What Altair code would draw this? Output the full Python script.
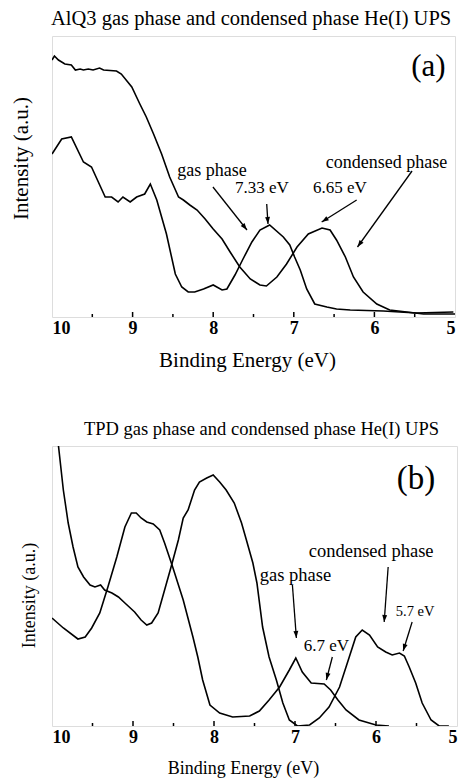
import math
import altair as alt
import pandas as pd

FONT = "Liberation Serif"

# ---------------- Panel (a): AlQ3 ----------------
a_gas_E = [10.0, 9.88, 9.76, 9.61, 9.51, 9.34, 9.26, 9.18, 9.12, 9.03, 8.95, 8.85, 8.78, 8.70,
           8.58, 8.47, 8.39, 8.31, 8.23, 8.12, 8.00, 7.89, 7.83, 7.73, 7.63, 7.52, 7.42, 7.30,
           7.13, 7.05, 6.99, 6.92, 6.84, 6.74, 6.59, 6.47, 6.30, 5.89, 5.48, 5.02]
a_gas_I = [163, 178, 180, 155, 150, 120, 120, 115, 120, 115, 120, 123, 133, 117,
           83, 43, 30, 25, 25, 28, 32, 27, 28, 42, 58, 75, 87, 92,
           80, 72, 60, 47, 28, 13, 10, 8, 7, 6, 4, 5]

a_cond_E = [10.0, 9.97, 9.92, 9.84, 9.76, 9.71, 9.65, 9.61, 9.55, 9.49, 9.41, 9.36, 9.20, 9.14,
            9.01, 8.91, 8.83, 8.74, 8.64, 8.54, 8.43, 8.37, 8.29, 8.20, 8.10, 8.00, 7.89, 7.79,
            7.67, 7.54, 7.42, 7.34, 7.21, 7.09, 6.96, 6.82, 6.65, 6.55, 6.47, 6.36, 6.26, 6.14,
            5.97, 5.81, 5.60, 5.39, 5.0]
a_cond_I = [257, 261, 257, 253, 252, 247, 248, 247, 248, 247, 249, 247, 246, 243,
            230, 213, 200, 183, 163, 140, 120, 117, 112, 107, 98, 88, 78, 65,
            50, 38, 32, 31, 40, 53, 70, 83, 89, 87, 77, 60, 40, 25,
            13, 7, 5, 3, 3]

a_labels = ["gas phase", "7.33 eV", "6.65 eV", "condensed phase", "(a)"]
a_label_E = [8.015, 7.395, 6.427, 5.85, 5.33]
a_label_I = [146, 129, 129, 154, 250]
a_label_fs = [18, 17, 17, 18, 31]

a_arrow_E1 = [8.003, 7.336, 6.220, 5.533]
a_arrow_I1 = [130, 113, 117, 146]
a_arrow_E2 = [7.581, 7.320, 6.654, 6.210]
a_arrow_I2 = [87, 93, 95, 70]

# ---------------- Panel (b): TPD ----------------
b_gas_E = [10.0, 9.86, 9.68, 9.59, 9.51, 9.41, 9.31, 9.20, 9.10, 9.02, 8.96, 8.90, 8.83, 8.75,
           8.67, 8.61, 8.51, 8.38, 8.26, 8.20, 8.14, 8.05, 7.93, 7.77, 7.56, 7.44, 7.32, 7.19,
           7.07, 6.99, 6.91, 6.80, 6.64, 6.56, 6.47, 6.37, 6.21, 6.00, 5.84]
b_gas_I = [108, 98, 87, 89, 98, 113, 139, 169, 199, 213, 213, 208, 204, 202,
           196, 183, 159, 126, 89, 69, 46, 21, 13, 9, 10, 15, 26, 39,
           56, 68, 54, 43, 42, 36, 26, 16, 6, 1, 0]

b_cond_E = [9.92, 9.86, 9.80, 9.74, 9.68, 9.61, 9.53, 9.47, 9.40, 9.35, 9.26, 9.18, 9.10, 8.98,
            8.90, 8.83, 8.77, 8.69, 8.61, 8.53, 8.44, 8.38, 8.32, 8.24, 8.18, 8.09, 8.01, 7.93,
            7.85, 7.75, 7.66, 7.60, 7.52, 7.47, 7.40, 7.32, 7.23, 7.15, 7.07, 6.97, 6.82, 6.70,
            6.58, 6.45, 6.33, 6.25, 6.17, 6.08, 5.98, 5.88, 5.80, 5.71, 5.65, 5.59, 5.51, 5.43,
            5.32, 5.22, 5.10]
b_cond_I = [280, 236, 203, 179, 159, 149, 141, 139, 141, 136, 133, 129, 123, 114,
            106, 101, 103, 113, 136, 159, 186, 208, 216, 236, 244, 248, 251, 244,
            236, 223, 203, 186, 163, 143, 99, 69, 46, 23, 6, 0, 1, 8,
            19, 39, 69, 89, 96, 91, 79, 74, 71, 73, 70, 59, 43, 23,
            6, 0, 0]

b_labels = ["gas phase", "condensed phase", "6.7 eV", "5.7 eV", "(b)"]
b_label_E = [6.995, 6.06, 6.613, 5.517, 5.505]
b_label_I = [151, 175, 80, 114, 247]
b_label_fs = [18.5, 18.5, 17, 14.5, 33]

b_arrow_E1 = [7.032, 6.539, 5.850, 5.554]
b_arrow_I1 = [141, 69, 159, 104]
b_arrow_E2 = [6.983, 6.613, 5.899, 5.665]
b_arrow_I2 = [88, 46, 104, 75]

tick_E = [9.5, 9.0, 8.5, 8.0, 7.5, 7.0, 6.5, 6.0, 5.5]
tick_len = [3, 5, 3, 5, 3, 5, 3, 5, 3]
tick_labels = [10, 9, 8, 7, 6, 5]

ARROW = "M0,0 L-0.7,2 L0.7,2 Z"


def panel(gas_E, gas_I, cond_E, cond_I, labels, lab_E, lab_I, lab_fs,
          ae1, ai1, ae2, ai2, width, height, title, title_fs, title_dx, title_off,
          ytitle_fs, ytitle_pad, ytitle_y, xtitle_fs, xtitle_pad, xtitle_x):
    curves = pd.concat([
        pd.DataFrame({"E": gas_E, "I": gas_I, "s": "gas"}),
        pd.DataFrame({"E": cond_E, "I": cond_I, "s": "cond"}),
    ])
    xsc = alt.Scale(domain=[5, 10], reverse=True, nice=False, zero=False)
    ysc = alt.Scale(domain=[0, height], nice=False, zero=True)
    xaxis = alt.Axis(values=tick_labels, format="d", ticks=False, domain=False, grid=False,
                     labelFont=FONT, labelFontSize=18, labelFontWeight="bold",
                     labelColor="black", labelPadding=2,
                     title="Binding Energy (eV)", titleFont=FONT, titleFontSize=xtitle_fs,
                     titleFontWeight="normal", titleColor="black", titlePadding=xtitle_pad,
                     titleX=xtitle_x)
    yaxis = alt.Axis(labels=False, ticks=False, domain=False, grid=False,
                     title="Intensity (a.u.)", titleFont=FONT, titleFontSize=ytitle_fs,
                     titleFontWeight="normal", titleColor="black", titlePadding=ytitle_pad,
                     titleY=ytitle_y)

    X = lambda f: alt.X(f, scale=xsc, axis=xaxis)
    Y = lambda f: alt.Y(f, scale=ysc, axis=yaxis)

    lines = alt.Chart(curves).mark_line(color="black", strokeWidth=1.6, clip=True).encode(
        x=X("E:Q"), y=Y("I:Q"), detail="s:N",
    )

    ticks = alt.Chart(pd.DataFrame({"E": tick_E, "L": tick_len, "z": [0] * len(tick_E)})).mark_rule(
        color="black", strokeWidth=1.5).encode(x=X("E:Q"), y=Y("z:Q"), y2="L:Q")

    ppe = width / 5.0
    ang = []
    for x1, y1, x2, y2 in zip(ae1, ai1, ae2, ai2):
        dx = -(x2 - x1) * ppe
        dy = -(y2 - y1)
        ang.append(math.degrees(math.atan2(dx, -dy)) % 360)
    arr = pd.DataFrame({"E1": ae1, "I1": ai1, "E2": ae2, "I2": ai2, "ang": ang})
    shafts = alt.Chart(arr).mark_rule(color="black", strokeWidth=1.3).encode(
        x=X("E1:Q"), y=Y("I1:Q"), x2="E2:Q", y2="I2:Q")
    heads = alt.Chart(arr).mark_point(shape=ARROW, filled=True, color="black", size=49,
                                      opacity=1).encode(
        x=X("E2:Q"), y=Y("I2:Q"), angle=alt.Angle("ang:Q", scale=None))

    txt = alt.Chart(pd.DataFrame({"t": labels, "E": lab_E, "I": lab_I, "fs": lab_fs})).mark_text(
        font=FONT, color="black", align="center", baseline="middle").encode(
        x=X("E:Q"), y=Y("I:Q"), text="t:N", size=alt.Size("fs:Q", scale=None))

    return alt.layer(lines, ticks, shafts, heads, txt).properties(
        width=width, height=height,
        title=alt.TitleParams(title, font=FONT, fontSize=title_fs, fontWeight="normal",
                              color="black", anchor="start", frame="group", dx=title_dx,
                              offset=title_off),
    )


pa = panel(a_gas_E, a_gas_I, a_cond_E, a_cond_I, a_labels, a_label_E, a_label_I, a_label_fs,
           a_arrow_E1, a_arrow_I1, a_arrow_E2, a_arrow_I2, 403, 281,
           "AlQ3 gas phase and condensed phase He(I) UPS", 20.5, -1, 7,
           21, 21, 122, 21, 12, 195)
pb = panel(b_gas_E, b_gas_I, b_cond_E, b_cond_I, b_labels, b_label_E, b_label_I, b_label_fs,
           b_arrow_E1, b_arrow_I1, b_arrow_E2, b_arrow_I2, 405, 280,
           "TPD gas phase and condensed phase He(I) UPS", 18.5, 32, 8,
           18, 14, 149, 18, 13, 191)

chart = alt.vconcat(pa, pb, spacing=48).properties(
    padding={"left": 1, "top": 0, "right": 0, "bottom": 0}
).configure_view(stroke="black", strokeWidth=2).configure_axis(
    labelFont=FONT, titleFont=FONT, labelFontWeight="bold", titleFontWeight="normal"
).configure(font=FONT, background="white")

chart.save("out.html", embed_options={"renderer": "svg", "actions": False})
